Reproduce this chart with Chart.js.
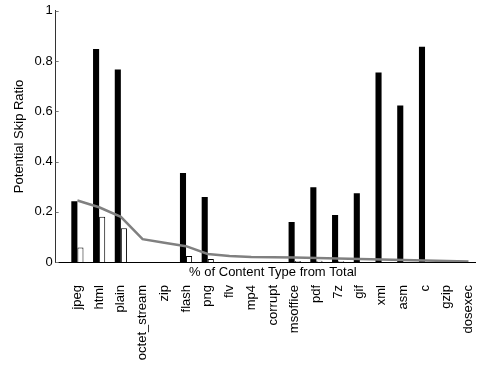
<!DOCTYPE html>
<html>
<head>
<meta charset="utf-8">
<script src="https://cdn.jsdelivr.net/npm/chart.js@4/dist/chart.umd.min.js"></script>
<style>
    html, body { margin: 0; padding: 0; background: #fff; }
    #wrap { width: 484px; height: 365px; }
</style>
</head>
<body>
<div id="wrap"><canvas id="skip-chart" width="484" height="365"></canvas></div>
<script>
const categories = ['jpeg', 'html', 'plain', 'octet_stream', 'zip', 'flash', 'png', 'flv', 'mp4',
    'corrupt', 'msoffice', 'pdf', '7z', 'gif', 'xml', 'asm', 'c', 'gzip', 'dosexec'];
const skipRatio = [0.242, 0.848, 0.766, 0, 0, 0.354, 0.259, 0, 0, 0, 0.159, 0.298, 0.187, 0.274, 0.754, 0.623, 0.857, 0, 0];
const skipRatioWhite = [0.058, 0.18, 0.134, 0, 0, 0.024, 0.012, 0, 0, 0, 0.004, 0.005, 0.003, 0, 0, 0, 0, 0, 0];
const contentShare = [0.245, 0.218, 0.18, 0.091, 0.077, 0.063, 0.032, 0.024, 0.02, 0.019, 0.018, 0.016, 0.014, 0.012, 0.01, 0.008, 0.006, 0.004, 0.002];
const yTicks = [0, 0.2, 0.4, 0.6, 0.8, 1];

const FONT = "'Liberation Sans', Arial, Helvetica, sans-serif";
const toPoints = arr => arr.map((v, i) => ({ x: i + 1, y: v }));

// x title sits between the axis and the rotated labels, so draw it ourselves
const xTitlePlugin = {
    id: 'xTitle',
    afterDraw(chart) {
        const { ctx, chartArea, scales } = chart;
        ctx.save();
        ctx.font = '13px ' + FONT;
        ctx.fillStyle = '#000';
        ctx.textAlign = 'center';
        ctx.textBaseline = 'middle';
        ctx.fillText('% of Content Type from Total', scales.x.getPixelForValue(10), chartArea.bottom + 10);
        // small inward tick marks on the y axis
        ctx.strokeStyle = '#777';
        ctx.lineWidth = 1;
        yTicks.forEach(t => {
            const y = Math.round(scales.y.getPixelForValue(t)) + 0.5;
            ctx.beginPath();
            ctx.moveTo(chartArea.left, y);
            ctx.lineTo(chartArea.left + 3, y);
            ctx.stroke();
        });
        ctx.restore();
    }
};

new Chart(document.getElementById('skip-chart').getContext('2d'), {
    data: {
        datasets: [
            {
                type: 'line',
                label: 'Share',
                data: toPoints(contentShare),
                borderColor: '#808080',
                borderWidth: 2.5,
                pointRadius: 0,
                tension: 0,
                order: 0
            },
            {
                type: 'bar',
                label: 'Skip',
                data: toPoints(skipRatio),
                backgroundColor: '#000',
                borderWidth: 0,
                categoryPercentage: 0.56,
                barPercentage: 1,
                order: 1
            },
            {
                type: 'bar',
                label: 'Skip (white)',
                data: toPoints(skipRatioWhite),
                backgroundColor: '#fff',
                borderColor: '#000',
                borderWidth: 1,
                categoryPercentage: 0.56,
                barPercentage: 1,
                order: 1
            }
        ]
    },
    options: {
        responsive: false,
        animation: false,
        layout: { padding: { left: 8, right: 9, top: 10, bottom: 5 } },
        plugins: {
            legend: { display: false },
            tooltip: { enabled: false }
        },
        scales: {
            x: {
                type: 'linear',
                min: 0,
                max: 19.3,
                offset: false,
                grid: { display: false, drawTicks: false, offset: false },
                border: { display: true, color: '#000', width: 1 },
                afterBuildTicks: scale => {
                    scale.ticks = categories.map((c, i) => ({ value: i + 1 }));
                },
                afterFit: scale => {
                    scale.height = 98;
                    scale.paddingLeft = 0;
                    scale.paddingRight = 0;
                },
                ticks: {
                    autoSkip: false,
                    minRotation: 90,
                    maxRotation: 90,
                    padding: 23,
                    color: '#000',
                    font: { family: FONT, size: 13 },
                    callback: value => categories[value - 1]
                }
            },
            y: {
                min: 0,
                max: 1,
                grid: { display: false, drawTicks: false },
                border: { display: true, color: '#333', width: 1 },
                afterBuildTicks: scale => {
                    scale.ticks = yTicks.map(v => ({ value: v }));
                },
                ticks: {
                    padding: 3,
                    color: '#000',
                    font: { family: FONT, size: 13 },
                    callback: value => String(value)
                },
                title: {
                    display: true,
                    text: 'Potential Skip Ratio',
                    color: '#000',
                    font: { family: FONT, size: 13 },
                    padding: { top: 4, bottom: 4 }
                }
            }
        }
    },
    plugins: [xTitlePlugin]
});
</script>
</body>
</html>
